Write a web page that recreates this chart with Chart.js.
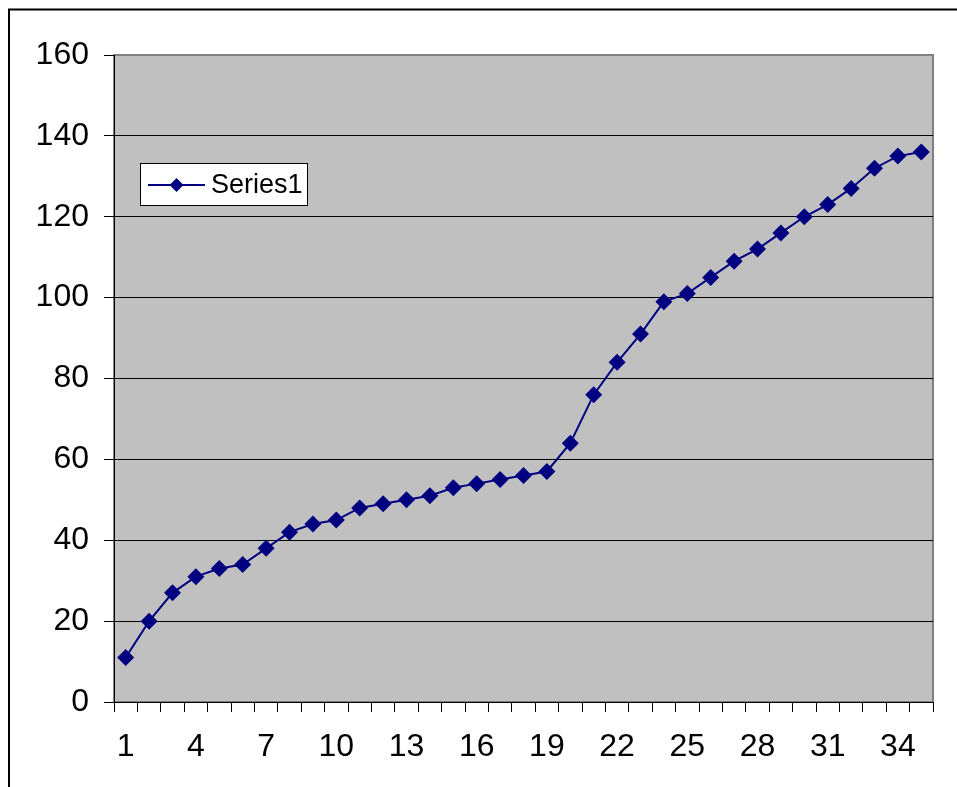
<!DOCTYPE html>
<html>
<head>
<meta charset="utf-8">
<script src="https://cdn.jsdelivr.net/npm/chart.js@4.4.1/dist/chart.umd.min.js"></script>
<style>
  html, body { margin: 0; padding: 0; background: #fff; }
  #wrap { width: 957px; height: 787px; position: relative; }
</style>
</head>
<body>
<div id="wrap"><canvas id="chart" width="957" height="787"></canvas></div>
<script>
// categories 1..35
const categories = ["1","2","3","4","5","6","7","8","9","10","11","12","13","14","15","16","17","18",
  "19","20","21","22","23","24","25","26","27","28","29","30","31","32","33","34","35"];
const seriesName = "Series1";
const series1 = [11, 20, 27, 31, 33, 34, 38, 42, 44, 45, 48, 49, 50, 51, 53, 54, 55, 56,
  57, 64, 76, 84, 91, 99, 101, 105, 109, 112, 116, 120, 123, 127, 132, 135, 136];
const yTicks = [0, 20, 40, 60, 80, 100, 120, 140, 160];
const xLabelEvery = 3;

const FONT = "'Liberation Sans', Arial, sans-serif";
const NAVY = "#000080";

// gray plot area, outer frame, and the little legend box
const excelLook = {
  id: "excelLook",
  beforeDraw(chart) {
    const ctx = chart.ctx;
    const a = chart.chartArea;
    ctx.save();
    ctx.fillStyle = "#fff";
    ctx.fillRect(0, 0, chart.width, chart.height);
    ctx.strokeStyle = "#000";
    ctx.lineWidth = 2;
    ctx.strokeRect(9, 9.5, chart.width + 20, chart.height + 20);
    ctx.fillStyle = "#c0c0c0";
    ctx.fillRect(a.left, a.top, a.right - a.left, a.bottom - a.top);
    ctx.strokeStyle = "#808080";
    ctx.lineWidth = 2;
    ctx.strokeRect(a.left, a.top, a.right - a.left, a.bottom - a.top);
    ctx.restore();
  },
  afterDraw(chart) {
    const ctx = chart.ctx;
    ctx.save();
    ctx.fillStyle = "#fff";
    ctx.fillRect(140, 163, 167, 42);
    ctx.strokeStyle = "#000";
    ctx.lineWidth = 1;
    ctx.strokeRect(140.5, 163.5, 167, 42);
    ctx.strokeStyle = NAVY;
    ctx.lineWidth = 2;
    ctx.beginPath();
    ctx.moveTo(148, 185);
    ctx.lineTo(205, 185);
    ctx.stroke();
    ctx.fillStyle = NAVY;
    ctx.beginPath();
    ctx.moveTo(176.5, 178);
    ctx.lineTo(183.5, 185);
    ctx.lineTo(176.5, 192);
    ctx.lineTo(169.5, 185);
    ctx.closePath();
    ctx.fill();
    ctx.fillStyle = "#000";
    ctx.font = "27px " + FONT;
    ctx.textBaseline = "middle";
    ctx.fillText(chart.data.datasets[0].label, 211, 186);
    ctx.restore();
  }
};

new Chart(document.getElementById("chart"), {
  type: "line",
  data: {
    labels: categories,
    datasets: [{
      label: seriesName,
      data: series1,
      borderColor: NAVY,
      backgroundColor: NAVY,
      borderWidth: 2,
      pointStyle: "rectRot",
      pointRadius: 8.5,
      pointHoverRadius: 8.5,
      pointBorderWidth: 0,
      tension: 0
    }]
  },
  options: {
    responsive: false,
    animation: false,
    events: [],
    layout: { padding: { left: 0, right: 24, top: 55, bottom: 0 } },
    plugins: { legend: { display: false }, tooltip: { enabled: false } },
    scales: {
      x: {
        offset: true,
        grid: {
          offset: true,
          drawOnChartArea: false,
          color: "#000",
          tickLength: 10,
          lineWidth: 1
        },
        border: { color: "#000", width: 1 },
        ticks: {
          autoSkip: false,
          maxRotation: 0,
          padding: 16,
          color: "#000",
          font: { family: FONT, size: 32 },
          callback: (v, i) => (i % xLabelEvery === 0 ? categories[i] : "")
        },
        afterFit: (s) => { s.height = 787 - 702; }
      },
      y: {
        min: yTicks[0],
        max: yTicks[yTicks.length - 1],
        afterBuildTicks: (s) => { s.ticks = yTicks.map(v => ({ value: v })); },
        grid: {
          color: (c) => (c.tick && c.tick.value === 160 ? "#808080" : "#000"),
          tickColor: "#000",
          tickLength: 10,
          lineWidth: 1
        },
        border: { color: "#000", width: 1 },
        ticks: {
          padding: 15,
          color: "#000",
          font: { family: FONT, size: 32 }
        },
        afterFit: (s) => { s.width = 114; }
      }
    }
  },
  plugins: [excelLook]
});
</script>
</body>
</html>
